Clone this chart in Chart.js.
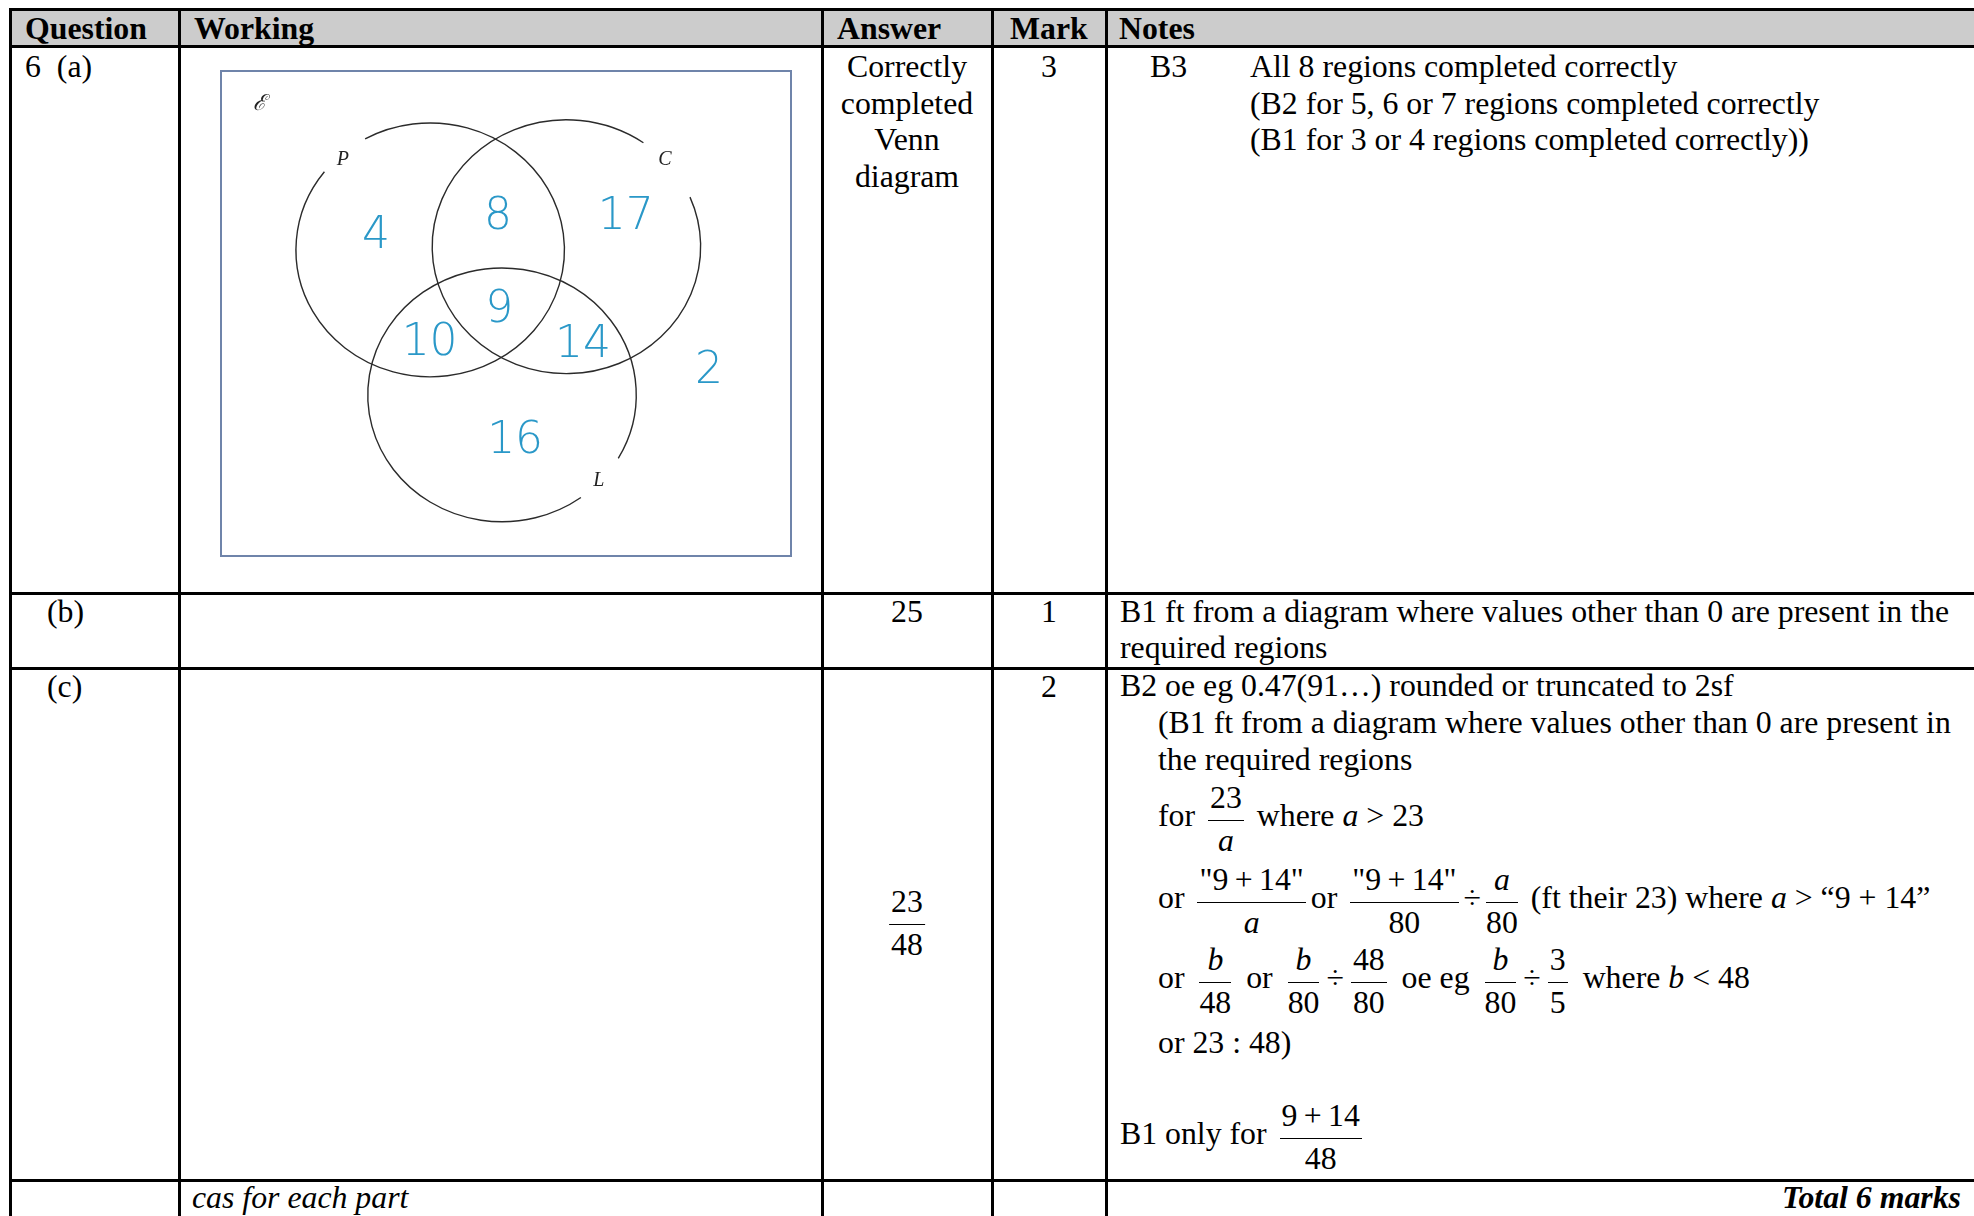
<!DOCTYPE html>
<html>
<head>
<meta charset="utf-8">
<script src="https://cdn.jsdelivr.net/npm/chart.js@4.4.1/dist/chart.umd.min.js"></script>
<style>
  html, body { margin: 0; padding: 0; background: #fff; }
  body { width: 1974px; height: 1216px; overflow: hidden; position: relative;
         font-family: "Liberation Serif", "Times New Roman", serif; color: #000; }
  .ln { position: absolute; background: #000; }
  .tx { position: absolute; white-space: nowrap; font-size: 31.8px; line-height: 31.8px; }
  .fr { display: inline-block; vertical-align: -24px; text-align: center; margin: 0 5px; }
  .fr .n { display: block; line-height: 31.8px; padding: 0 2px 5.8px; border-bottom: 1.5px solid #000; }
  .fr .d { display: block; line-height: 31.8px; margin-top: 3.9px; }
  .wide .fr { margin: 0 7px; }
  #vennBox { position: absolute; left: 201px; top: 51px; }
</style>
</head>
<body>
<div id="vennBox"><canvas id="venn" width="610" height="525"></canvas></div>
<script>
/* Venn diagram data ------------------------------------------------------ */
var regionNames  = ["P only", "P and C only", "C only", "P, C and L", "P and L only", "C and L only", "L only", "none"];
var regionCounts = [4, 8, 17, 9, 10, 14, 16, 2];
var setNames     = ["P", "C", "L"];

// where things sit, in scale units (x 0-100, y 0-90 from the top)
var regionX   = [27.2, 48.6, 71.0, 48.8, 36.6, 63.5, 51.6, 85.6];
var regionY   = [29.8, 26.4, 26.4, 43.7, 49.8, 50.1, 67.9, 55.0];
var setX      = [36.7, 60.6, 49.3];
var setY      = [33.2, 32.6, 60.1];
var setR      = 23.55;
var setLabelX = [21.4, 77.9, 66.3];
var setLabelY = [16.5, 16.5, 76.1];
var setGaps   = [[-142, -119], [-55, -23], [30, 54]];   // degrees left open for the labels

/* Table grid --------------------------------------------------------------- */
function box(l, t, w, h, bg) {
  var d = document.createElement("div");
  d.className = "ln";
  d.style.left = l + "px"; d.style.top = t + "px";
  d.style.width = w + "px"; d.style.height = h + "px";
  if (bg) d.style.background = bg;
  document.body.appendChild(d);
}
box(10, 9, 1964, 37, "#cccccc");
[9, 46.5, 593, 668, 1180].forEach(function (y) { box(8.5, y - 1.5, 1966, 3); });
[10, 179, 822, 992, 1106].forEach(function (x) { box(x - 1.5, 7.5, 3, 1210); });

/* Text ----------------------------------------------------------------------- */
function t(html, x, base, o) {
  o = o || {};
  var d = document.createElement("div");
  d.className = "tx" + (o.wide ? " wide" : "");
  d.innerHTML = html;
  d.style.top = (base - (o.frac ? 45.6 : 26.6)) + "px";
  if (o.right) d.style.right = (1974 - x) + "px";
  else d.style.left = x + "px";
  if (o.center) d.style.transform = "translateX(-50%)";
  if (o.bold) d.style.fontWeight = "bold";
  if (o.italic) d.style.fontStyle = "italic";
  document.body.appendChild(d);
}
function fr(n, d) { return '<span class="fr"><span class="n">' + n + '</span><span class="d">' + d + '</span></span>'; }
var q914 = '"9&#8201;+&#8201;14"';

t("Question", 25, 40, { bold: true });
t("Working", 194, 40, { bold: true });
t("Answer", 837, 40, { bold: true });
t("Mark", 1010, 40, { bold: true });
t("Notes", 1119, 40, { bold: true });

t("6&nbsp;&nbsp;(a)", 25, 78);
t("Correctly", 907, 78, { center: true });
t("completed", 907, 114.5, { center: true });
t("Venn", 907, 151, { center: true });
t("diagram", 907, 187.5, { center: true });
t("3", 1049, 78, { center: true });
t("B3", 1150, 78);
t("All 8 regions completed correctly", 1250, 78);
t("(B2 for 5, 6 or 7 regions completed correctly", 1250, 114.5);
t("(B1 for 3 or 4 regions completed correctly))", 1250, 151);

t("(b)", 47, 623);
t("25", 907, 623, { center: true });
t("1", 1049, 623, { center: true });
t("B1 ft from a diagram where values other than 0 are present in the", 1120, 623);
t("required regions", 1120, 659);

t("(c)", 47, 698);
t(fr("23", "48"), 907, 932, { center: true, frac: true });
t("2", 1049, 698, { center: true });
t("B2 oe eg 0.47(91…) rounded or truncated to 2sf", 1120, 697);
t("(B1 ft from a diagram where values other than 0 are present in", 1158, 734);
t("the required regions", 1158, 770.5);
t("for " + fr("23", "<i>a</i>") + " where <i>a</i> &gt; 23", 1158, 828, { frac: true });
t("or " + fr(q914, "<i>a</i>") + "or " + fr(q914, "80") + "÷" + fr("<i>a</i>", "80") +
  " (ft their 23) where <i>a</i> &gt; “9 + 14”", 1158, 910, { frac: true });
t("or " + fr("<i>b</i>", "48") + " or " + fr("<i>b</i>", "80") + "÷" + fr("48", "80") + " oe eg " +
  fr("<i>b</i>", "80") + "÷" + fr("3", "5") + " where <i>b</i> &lt; 48", 1158, 990, { frac: true, wide: true });
t("or 23 : 48)", 1158, 1053.5);
t("B1 only for " + fr("9&#8201;+&#8201;14", "48"), 1120, 1146, { frac: true });

t("cas for each part", 192, 1209, { italic: true });
t("Total 6 marks", 1961, 1209, { right: true, bold: true, italic: true });

/* Venn diagram, drawn with Chart.js ------------------------------------------- */
var vennPlugin = {
  id: "venn",
  afterDatasetsDraw: function (chart) {
    var ctx = chart.ctx, a = chart.chartArea;
    var xs = chart.scales.x, ys = chart.scales.y;
    ctx.save();
    // universal set
    ctx.strokeStyle = "#6f84aa";
    ctx.lineWidth = 2;
    ctx.strokeRect(a.left, a.top, a.right - a.left, a.bottom - a.top);
    ctx.fillStyle = "#222";
    ctx.font = "italic 22px 'DejaVu Serif', 'Liberation Serif', serif";
    ctx.textAlign = "center";
    ctx.textBaseline = "middle";
    ctx.fillText("\u2130", xs.getPixelForValue(6.7), ys.getPixelForValue(6.1));

    // sets
    var rx = xs.getPixelForValue(setR) - xs.getPixelForValue(0);
    var ry = Math.abs(ys.getPixelForValue(setR) - ys.getPixelForValue(0));
    chart.getDatasetMeta(1).data.forEach(function (el, i) {
      var g = setGaps[i];
      ctx.beginPath();
      ctx.strokeStyle = "#2b2b2b";
      ctx.lineWidth = 1.4;
      ctx.ellipse(el.x, el.y, rx, ry, 0, g[1] * Math.PI / 180, (g[0] + 360) * Math.PI / 180);
      ctx.stroke();
    });
    ctx.font = "italic 20px 'Liberation Serif', serif";
    chart.getDatasetMeta(2).data.forEach(function (el, i) {
      ctx.fillText(setNames[i], el.x, el.y);
    });

    // region counts
    ctx.fillStyle = "#2a98c8";
    ctx.font = "200 44px 'DejaVu Sans', sans-serif";
    ctx.textBaseline = "alphabetic";
    chart.getDatasetMeta(0).data.forEach(function (el, i) {
      ctx.fillText(String(regionCounts[i]), el.x, el.y + 16);
    });
    ctx.restore();
  }
};

new Chart(document.getElementById("venn"), {
  type: "scatter",
  data: {
    datasets: [
      { label: "Regions", data: regionCounts.map(function (v, i) { return { x: regionX[i], y: regionY[i], v: v, name: regionNames[i] }; }), pointRadius: 0 },
      { label: "Sets", data: setNames.map(function (s, i) { return { x: setX[i], y: setY[i] }; }), pointRadius: 0 },
      { label: "Set labels", data: setNames.map(function (s, i) { return { x: setLabelX[i], y: setLabelY[i] }; }), pointRadius: 0 }
    ]
  },
  options: {
    responsive: false,
    animation: false,
    layout: { padding: 20 },
    scales: {
      x: { type: "linear", min: 0, max: 100, display: false },
      y: { type: "linear", min: 0, max: 90, reverse: true, display: false }
    },
    plugins: { legend: { display: false }, tooltip: { enabled: false } }
  },
  plugins: [vennPlugin]
});
</script>
</body>
</html>
